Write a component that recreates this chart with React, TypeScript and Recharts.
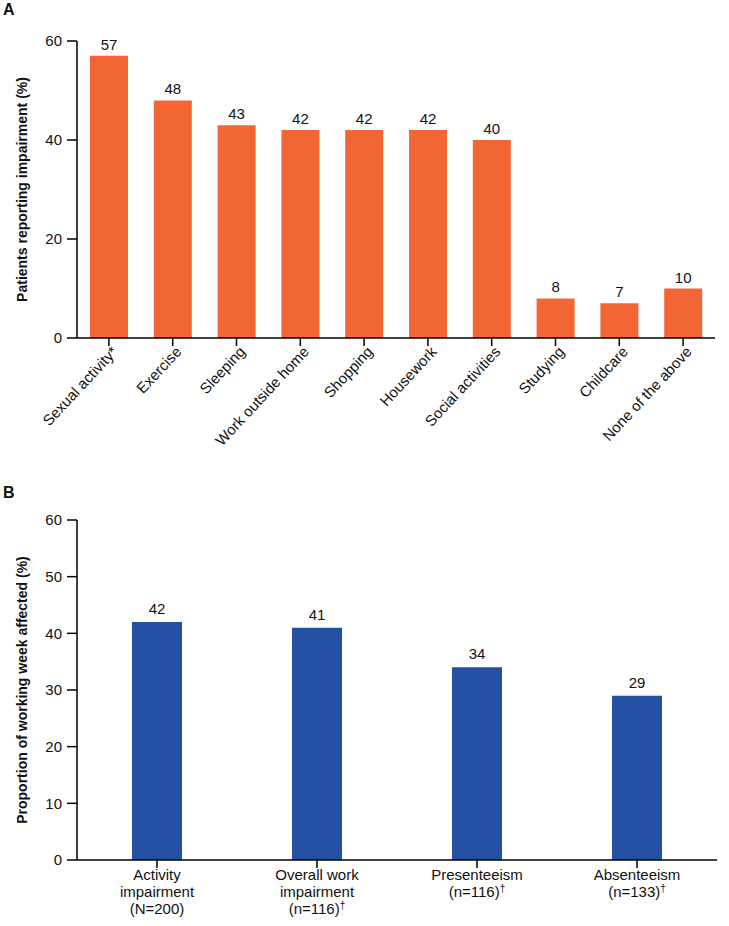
import { BarChart, Bar, XAxis, YAxis, LabelList } from 'recharts';

// Panel A: activities impaired
const activityNames = [
  'Sexual activity*',
  'Exercise',
  'Sleeping',
  'Work outside home',
  'Shopping',
  'Housework',
  'Social activities',
  'Studying',
  'Childcare',
  'None of the above',
];
const activityValues = [57, 48, 43, 42, 42, 42, 40, 8, 7, 10];
const activityTicks = [0, 20, 40, 60];

// Panel B: WPAI outcomes, one entry per line of the tick label
const workLines = [
  ['Activity', 'impairment', '(N=200)'],
  ['Overall work', 'impairment', '(n=116)†'],
  ['Presenteeism', '(n=116)†'],
  ['Absenteeism', '(n=133)†'],
];
const workValues = [42, 41, 34, 29];
const workTicks = [0, 10, 20, 30, 40, 50, 60];

const ORANGE = '#F26633';
const BLUE = '#2350A2';
const FONT = '"Liberation Sans", Arial, Helvetica, sans-serif';
const INK = '#111';

const activityData = activityNames.map((name, i) => ({ name, v: activityValues[i] }));
const workNames = workLines.map((l) => l.join(' '));
const workData = workNames.map((name, i) => ({ name, v: workValues[i] }));

function SlantTick({ x, y, payload }: any) {
  return (
    <g transform={`translate(${x + 6},${y + 1}) rotate(-47)`}>
      <text x={0} y={0} dy={5} textAnchor="end" fontSize={15} fill={INK} fontFamily={FONT}>
        {payload.value}
      </text>
    </g>
  );
}

function StackTick({ x, y, payload }: any) {
  const lines = workLines[workNames.indexOf(payload.value)] ?? [];
  return (
    <g>
      {lines.map((line, i) => {
        const dagger = line.endsWith('†');
        const main = dagger ? line.slice(0, -1) : line;
        return (
          <text key={i} x={x} y={y + 10 + i * 17} textAnchor="middle" fontSize={15} fill={INK} fontFamily={FONT}>
            <tspan>{main}</tspan>
            {dagger && (
              <tspan dy={-5} fontSize={10}>
                †
              </tspan>
            )}
          </text>
        );
      })}
    </g>
  );
}

function axisTitle(title: string) {
  return (props: any) => {
    const vb = props.viewBox ?? { y: 0, height: 0 };
    const cy = vb.y + vb.height / 2;
    return (
      <text
        x={22}
        y={cy}
        transform={`rotate(-90, 22, ${cy})`}
        textAnchor="middle"
        dominantBaseline="central"
        fontSize={14}
        fontWeight="bold"
        fill={INK}
        fontFamily={FONT}
      >
        {title}
      </text>
    );
  };
}

const letterStyle: React.CSSProperties = {
  position: 'absolute',
  left: 3,
  fontFamily: FONT,
  fontWeight: 'bold',
  fontSize: 16,
  color: INK,
};

export default function App() {
  const axisLine = { stroke: '#000', strokeWidth: 1.5 };
  return (
    <div style={{ position: 'absolute', left: 0, top: 0, width: 729, height: 926, background: '#fff' }}>
      <div style={{ ...letterStyle, top: 1 }}>A</div>
      <div style={{ ...letterStyle, top: 484 }}>B</div>

      <div style={{ position: 'absolute', left: 0, top: 0 }}>
        <BarChart
          width={729}
          height={480}
          data={activityData}
          margin={{ top: 41, right: 14, bottom: 0, left: 17 }}
          barSize={38}
        >
          <XAxis
            dataKey="name"
            interval={0}
            height={142}
            tickSize={8}
            axisLine={axisLine}
            tickLine={axisLine}
            tick={<SlantTick />}
          />
          <YAxis
            width={60}
            domain={[0, 60]}
            ticks={activityTicks}
            interval={0}
            tickSize={10}
            tickMargin={5}
            axisLine={axisLine}
            tickLine={axisLine}
            tick={{ fontSize: 15, fill: INK, fontFamily: FONT }}
            label={axisTitle('Patients reporting impairment (%)')}
          />
          <Bar dataKey="v" fill={ORANGE} isAnimationActive={false}>
            <LabelList dataKey="v" position="top" offset={6} fontSize={15} fill={INK} fontFamily={FONT} />
          </Bar>
        </BarChart>
      </div>

      <div style={{ position: 'absolute', left: 0, top: 470 }}>
        <BarChart
          width={729}
          height={456}
          data={workData}
          margin={{ top: 50, right: 12, bottom: 0, left: 17 }}
          barSize={50}
        >
          <XAxis
            dataKey="name"
            interval={0}
            height={66}
            tickSize={8}
            axisLine={axisLine}
            tickLine={axisLine}
            tick={<StackTick />}
          />
          <YAxis
            width={60}
            domain={[0, 60]}
            ticks={workTicks}
            interval={0}
            tickSize={10}
            tickMargin={5}
            axisLine={axisLine}
            tickLine={axisLine}
            tick={{ fontSize: 15, fill: INK, fontFamily: FONT }}
            label={axisTitle('Proportion of working week affected (%)')}
          />
          <Bar dataKey="v" fill={BLUE} isAnimationActive={false}>
            <LabelList dataKey="v" position="top" offset={8} fontSize={15} fill={INK} fontFamily={FONT} />
          </Bar>
        </BarChart>
      </div>
    </div>
  );
}
